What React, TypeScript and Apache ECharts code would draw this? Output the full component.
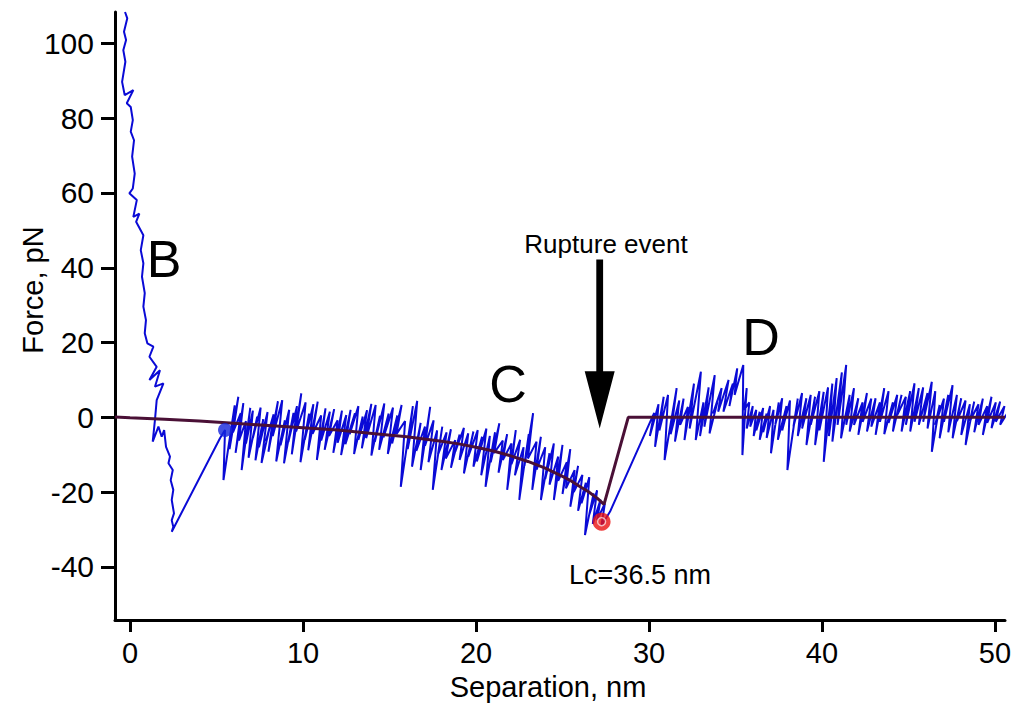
import React, { useEffect, useRef } from "react";
import * as echarts from "echarts";

// Axis ticks
const xTicks = [0, 10, 20, 30, 40, 50];
const yTicks = [-40, -20, 0, 20, 40, 60, 80, 100];
const xRange = [-0.87, 50.58];
const yRange = [-54.2, 108.4];

// Region B: approach / indentation (separation nm, force pN)
const traceB: [number, number][] = [
  [-0.29, 108.4], [-0.16, 106.7], [-0.35, 103.1], [-0.23, 100.9], [-0.39, 98.2],
  [-0.27, 95.1], [-0.46, 89.7], [-0.31, 86.2], [0.19, 87.5], [-0.19, 84.0],
  [0.04, 83.0], [0.16, 79.5], [0.04, 76.4], [0.23, 74.1], [0.12, 69.7],
  [0.27, 65.2], [0.16, 61.2], [-0.04, 59.9], [0.39, 58.1], [0.19, 53.6],
  [0.54, 54.5], [0.35, 52.3], [0.77, 48.7], [0.62, 44.7], [0.77, 41.2],
  [0.69, 37.6], [0.85, 33.2], [0.77, 29.6], [0.92, 26.0], [0.85, 22.5],
  [1.0, 19.8], [1.35, 18.9], [1.12, 16.2], [1.54, 13.5], [1.12, 10.0],
  [1.73, 12.6], [1.44, 8.2], [1.93, 9.1], [1.54, 4.6], [1.44, -0.7],
  [1.31, -6.5], [1.64, -2.5], [1.83, -5.2], [1.97, -3.4], [2.08, -7.9],
  [2.31, -10.5], [2.22, -12.3], [2.47, -14.1], [2.35, -16.8], [2.5, -19.4],
  [2.41, -22.1], [2.54, -25.7], [2.41, -27.5], [2.5, -29.3], [2.41, -30.6],
  [5.2, -5.6], [5.49, -3.4],
];

// Region C: stretched molecule until rupture
const traceC: [number, number][] = [
  [5.40, -16.8], [6.05, 3.2], [5.75, -8.5], [6.26, 5.5], [5.95, -4.0], [6.40, 1.1],
  [6.10, -9.5], [6.55, 3.8], [6.30, -6.2], [6.70, -1.0], [6.45, -14.1], [6.95, 2.5],
  [6.70, -7.0], [7.10, 1.8], [6.85, -10.8], [7.35, 0.2], [7.10, -5.5], [7.55, 2.6],
  [7.25, -11.5], [7.70, -0.5], [7.45, -8.0], [7.95, 1.4], [7.60, -12.2], [8.10, -2.1],
  [7.85, -6.4], [8.30, 0.8], [8.00, -9.2], [8.55, 4.3], [8.25, -5.0], [8.80, 4.6],
  [8.45, -11.8], [8.95, -0.8], [8.70, -7.5], [9.20, 2.0], [8.90, -12.3], [9.45, 1.2],
  [9.15, -6.6], [9.65, 3.0], [9.35, -9.9], [9.90, 6.4], [9.60, -3.8], [10.15, 4.0],
  [9.85, -12.0], [10.35, 1.0], [10.10, -6.0], [10.60, 3.5], [10.30, -8.8], [10.85, 4.2],
  [10.55, -4.4], [11.05, 0.5], [10.80, -11.4], [11.30, 2.4], [11.05, -6.2], [11.55, 1.5],
  [11.25, -8.7], [11.80, 2.2], [11.50, -5.0], [12.00, -0.8], [11.75, -9.5], [12.25, 1.8],
  [12.00, -6.8], [12.50, 0.6], [12.20, -10.1], [12.75, 2.0], [12.45, -7.2], [13.00, 1.1],
  [12.70, -4.5], [13.20, 3.0], [12.95, -9.8], [13.45, 0.2], [13.20, -6.0], [13.70, 1.9],
  [13.40, -8.3], [13.95, 3.6], [13.65, -5.6], [14.20, 3.3], [13.95, -10.2], [14.45, 0.4],
  [14.15, -6.5], [14.70, 3.7], [14.40, -8.7], [14.95, 1.0], [14.65, -5.4], [15.20, 2.6],
  [14.90, -9.8], [15.45, 0.5], [15.15, -7.0], [15.70, 3.3], [15.40, -4.5], [15.90, -1.0],
  [15.65, -18.6], [16.35, 3.0], [16.05, -8.5], [16.60, 4.4], [16.30, -13.2], [16.80, -1.5],
  [16.55, -9.0], [17.05, -2.5], [16.80, -14.1], [17.35, 2.8], [17.05, -7.6], [17.55, -0.8],
  [17.25, -12.0], [17.75, -3.5], [17.50, -19.4], [18.05, -2.5], [17.80, -10.0], [18.30, -4.0],
  [18.00, -14.1], [18.55, -3.2], [18.25, -11.0], [18.80, -6.1], [18.55, -13.5], [19.05, -4.6],
  [18.80, -9.2], [19.30, -2.8], [19.05, -11.4], [19.55, -4.3], [19.30, -15.0], [19.85, -3.8],
  [19.55, -10.5], [20.10, -3.4], [19.85, -13.2], [20.35, -5.2], [20.05, -11.8], [20.60, -3.0],
  [20.30, -15.5], [20.80, -5.0], [20.55, -18.6], [21.10, -4.0], [20.85, -12.0], [21.35, -1.6],
  [21.05, -9.5], [21.55, -6.2], [21.30, -14.8], [21.80, -4.5], [21.55, -11.4], [22.05, -7.0],
  [21.80, -19.4], [22.30, -3.4], [22.05, -12.5], [22.55, -6.0], [22.25, -15.5], [22.75, -8.0],
  [22.50, -22.1], [23.05, -4.5], [22.80, -13.0], [23.30, 1.1], [23.00, -11.0], [23.50, -6.5],
  [23.25, -19.4], [23.75, -5.2], [23.50, -14.0], [24.00, -8.0], [23.75, -22.1], [24.25, -9.6],
  [24.00, -16.5], [24.50, -7.0], [24.25, -18.0], [24.75, -10.5], [24.50, -22.1], [25.00, -7.4],
  [24.75, -17.0], [25.25, -12.0], [25.00, -20.5], [25.45, -8.5], [25.20, -19.0], [25.70, -14.1],
  [25.45, -23.9], [25.90, -13.0], [25.65, -20.0], [26.15, -15.4], [25.90, -25.0], [26.35, -17.5],
  [26.10, -23.0], [26.55, -16.0], [26.30, -31.5], [26.80, -20.3], [26.55, -26.0], [27.00, -19.5],
  [26.75, -28.5], [27.20, -22.0], [27.00, -27.5], [27.45, -23.0], [27.25, -29.0], [27.75, -25.2],
];

// Region D: after rupture, free cantilever
const traceD: [number, number][] = [
  [30.30, 1.2], [30.05, -5.0], [30.55, 3.5], [30.35, -7.9], [30.85, 5.5], [30.60, -3.5],
  [31.10, 6.0], [30.90, -11.4], [31.60, 7.8], [31.25, -4.5], [31.75, 4.5], [31.50, -6.5],
  [32.00, 5.0], [31.80, -2.0], [32.25, 2.8], [32.05, -6.1], [32.60, 9.0], [32.35, -3.0],
  [33.00, 12.2], [32.70, -6.1], [33.15, 4.0], [32.95, -5.0], [33.45, 8.0], [33.20, -2.5],
  [33.80, 11.3], [33.50, -4.3], [33.95, 4.0], [33.70, 1.0], [34.20, 7.8], [34.00, 1.5],
  [34.60, 10.0], [34.30, 1.5], [34.85, 9.0], [34.65, 3.0], [35.10, 13.1], [34.95, 6.0],
  [35.45, 14.0], [35.40, -10.1], [35.65, 7.8], [35.50, 2.0], [35.80, 4.0], [35.65, -3.0],
  [36.00, 3.0], [35.85, -2.5], [36.20, 2.0], [36.05, -5.0], [36.40, 1.5], [36.20, -3.5],
  [36.60, 2.5], [36.40, -6.0], [36.80, 1.0], [36.60, -4.0], [37.00, 3.0], [36.80, -5.5],
  [37.20, 2.0], [37.05, -9.6], [37.50, 4.0], [37.30, -2.0], [37.70, 5.1], [37.45, -6.0],
  [37.95, 3.0], [37.70, -3.5], [38.15, 4.5], [38.00, -14.1], [38.60, 5.0], [38.35, -2.5],
  [38.85, 6.5], [38.60, -5.0], [39.10, 5.1], [38.85, -3.0], [39.35, 6.0], [39.10, -7.4],
  [39.60, 5.5], [39.35, -2.0], [39.85, 7.0], [39.60, -7.4], [40.10, 6.8], [39.85, -3.5],
  [40.35, 8.0], [40.10, -11.9], [40.60, 9.0], [40.40, -5.0], [40.85, 10.5], [40.60, -6.5],
  [41.15, 12.0], [40.90, -2.0], [41.40, 14.0], [41.10, -5.6], [41.60, 6.0], [41.40, -2.0],
  [41.85, 7.8], [41.60, -3.8], [42.10, 5.1], [41.85, -2.0], [42.35, 4.0], [42.10, -4.7],
  [42.60, 6.5], [42.35, -1.2], [42.85, 5.0], [42.60, -3.8], [43.10, 5.1], [42.85, -2.5],
  [43.35, 4.0], [43.10, -4.7], [43.60, 7.8], [43.35, -1.2], [43.85, 7.0], [43.60, -4.5],
  [44.10, 4.0], [43.85, -1.5], [44.35, 6.0], [44.10, -3.8], [44.60, 6.0], [44.35, 0.6],
  [44.85, 5.5], [44.60, -3.8], [45.10, 7.0], [44.85, -2.0], [45.35, 9.1], [45.10, -3.8],
  [45.60, 7.8], [45.35, -1.2], [45.85, 8.0], [45.60, -2.0], [46.10, 6.5], [45.85, -1.2],
  [46.35, 9.5], [46.10, -3.0], [46.55, 7.0], [46.35, -9.2], [46.80, 3.3], [46.55, -2.0],
  [47.05, 5.0], [46.80, -5.6], [47.30, 6.0], [47.05, -1.2], [47.55, 8.6], [47.30, -4.0],
  [47.80, 6.0], [47.55, -5.6], [48.05, 5.1], [47.80, -1.0], [48.30, 4.5], [48.05, -4.7],
  [48.55, 3.5], [48.30, -7.4], [48.80, 4.2], [48.55, -1.0], [49.05, 3.5], [48.80, -4.0],
  [49.30, 5.0], [49.05, -2.0], [49.55, 3.0], [49.30, -4.7], [49.80, 5.5], [49.55, -1.5],
  [50.05, 4.0], [49.80, -2.9], [50.30, 4.2], [50.05, -1.2], [50.55, 3.0], [50.30, -2.0],
  [50.70, 1.0],
];

// WLC fit (dark line)
const fitCurve: [number, number][] = [
  [-0.87, 0.1], [0, -0.1], [2, -0.5], [4, -1.0], [6, -1.6], [8, -2.2], [10, -2.8],
  [12, -3.4], [14, -4.3], [16, -5.2], [18, -6.4], [19, -7.1], [20, -8.0], [21, -9.0],
  [22, -10.3], [23, -11.8], [24, -13.6], [25, -15.8], [25.5, -17.0], [26, -18.5],
  [26.5, -19.9], [27, -21.6], [27.4, -23.3], [28.8, 0], [50.58, 0],
];

const startPoint: [number, number][] = [[5.49, -3.4]];
const rupturePoint: [number, number][] = [[27.26, -27.9]];

// Annotation anchors (data coordinates)
const arrowX = 27.15;
const arrowTop = 42.2;
const arrowHeadBase = 12.3;
const arrowTip = -3.0;

const FONT = "'Liberation Sans', Arial, Helvetica, sans-serif";

export default function App() {
  const ref = useRef<HTMLDivElement>(null);
  useEffect(() => {
    if (!ref.current) return;
    const chart = echarts.init(ref.current, null, { renderer: "svg" });
    const trace = [...traceB, ...traceC, ...traceD];
    chart.setOption({
      animation: false,
      backgroundColor: "#ffffff",
      grid: { left: 115, top: 12, right: 14, bottom: 89, containLabel: false, outerBoundsMode: "none" },
      xAxis: {
        type: "value",
        min: xRange[0],
        max: xRange[1],
        name: "Separation, nm",
        nameLocation: "middle",
        nameGap: 52,
        nameMoveOverlap: false,
        nameTextStyle: { fontSize: 29, color: "#000", fontFamily: FONT, padding: [0, 24, 0, 0] },
        axisLine: { onZero: false, lineStyle: { color: "#000", width: 3 } },
        axisTick: { show: true, length: 12, lineStyle: { color: "#000", width: 3 }, customValues: xTicks },
        axisLabel: { fontSize: 29, color: "#000", fontFamily: FONT, margin: 18, customValues: xTicks },
        splitLine: { show: false },
      },
      yAxis: {
        type: "value",
        min: yRange[0],
        max: yRange[1],
        name: "Force, pN",
        nameLocation: "middle",
        nameRotate: 90,
        nameGap: 68,
        nameMoveOverlap: false,
        nameTextStyle: { fontSize: 29, color: "#000", fontFamily: FONT, padding: [0, 0, 0, 52] },
        axisLine: { onZero: false, lineStyle: { color: "#000", width: 3 } },
        axisTick: { show: true, length: 14, lineStyle: { color: "#000", width: 3 }, customValues: yTicks },
        axisLabel: { fontSize: 30, color: "#000", fontFamily: FONT, margin: 21, customValues: yTicks },
        splitLine: { show: false },
      },
      series: [
        {
          type: "line",
          name: "trace",
          data: trace,
          showSymbol: false,
          symbol: "none",
          lineStyle: { color: "#0a0ad6", width: 2 },
          z: 2,
        },
        {
          type: "line",
          name: "fit",
          data: fitCurve,
          showSymbol: false,
          symbol: "none",
          lineStyle: { color: "#4a1036", width: 3 },
          z: 3,
        },
        {
          type: "scatter",
          name: "start",
          data: startPoint,
          symbol: "circle",
          symbolSize: 14,
          itemStyle: { color: "#1424dc" },
          z: 4,
        },
        {
          type: "scatter",
          name: "rupture",
          data: rupturePoint,
          symbol: "circle",
          symbolSize: 18,
          itemStyle: { color: "#ea1212" },
          z: 5,
        },
        {
          type: "scatter",
          name: "rupture-inner",
          data: rupturePoint,
          symbol: "circle",
          symbolSize: 8,
          itemStyle: { color: "rgba(0,0,0,0)", borderColor: "rgba(255,255,255,0.85)", borderWidth: 1.4 },
          z: 6,
        },
      ],
    });

    const p = (x: number, y: number) => chart.convertToPixel({ gridIndex: 0 }, [x, y]) as number[];
    const top = p(arrowX, arrowTop);
    const base = p(arrowX, arrowHeadBase);
    const tip = p(arrowX, arrowTip);
    const cx = top[0];
    const shaftHalf = 3.4;
    const headHalf = 15;
    const txt = (text: string, x: number, y: number, size: number) => ({
      type: "text",
      x,
      y,
      z: 10,
      style: {
        text,
        fill: "#000",
        font: `${size}px ${FONT}`,
        fontSize: size,
        fontFamily: FONT,
        align: "center",
        verticalAlign: "middle",
        textAlign: "center",
        textVerticalAlign: "middle",
      },
    });
    chart.setOption({
      graphic: [
        {
          type: "polygon",
          z: 10,
          shape: {
            points: [
              [cx - shaftHalf, top[1]],
              [cx + shaftHalf, top[1]],
              [cx + shaftHalf, base[1]],
              [cx + headHalf, base[1]],
              [cx, tip[1]],
              [cx - headHalf, base[1]],
              [cx - shaftHalf, base[1]],
            ],
          },
          style: { fill: "#000" },
        },
        txt("Rupture event", 606, 244, 26),
        txt("Lc=36.5 nm", 640, 575, 27),
        txt("B", 164, 259, 52),
        txt("C", 508, 384, 52),
        txt("D", 761, 337, 52),
      ],
    });

    return () => chart.dispose();
  }, []);
  return (
    <div
      ref={ref}
      style={{ position: "absolute", left: 0, top: 0, width: 1019, height: 709, background: "#fff" }}
    />
  );
}
